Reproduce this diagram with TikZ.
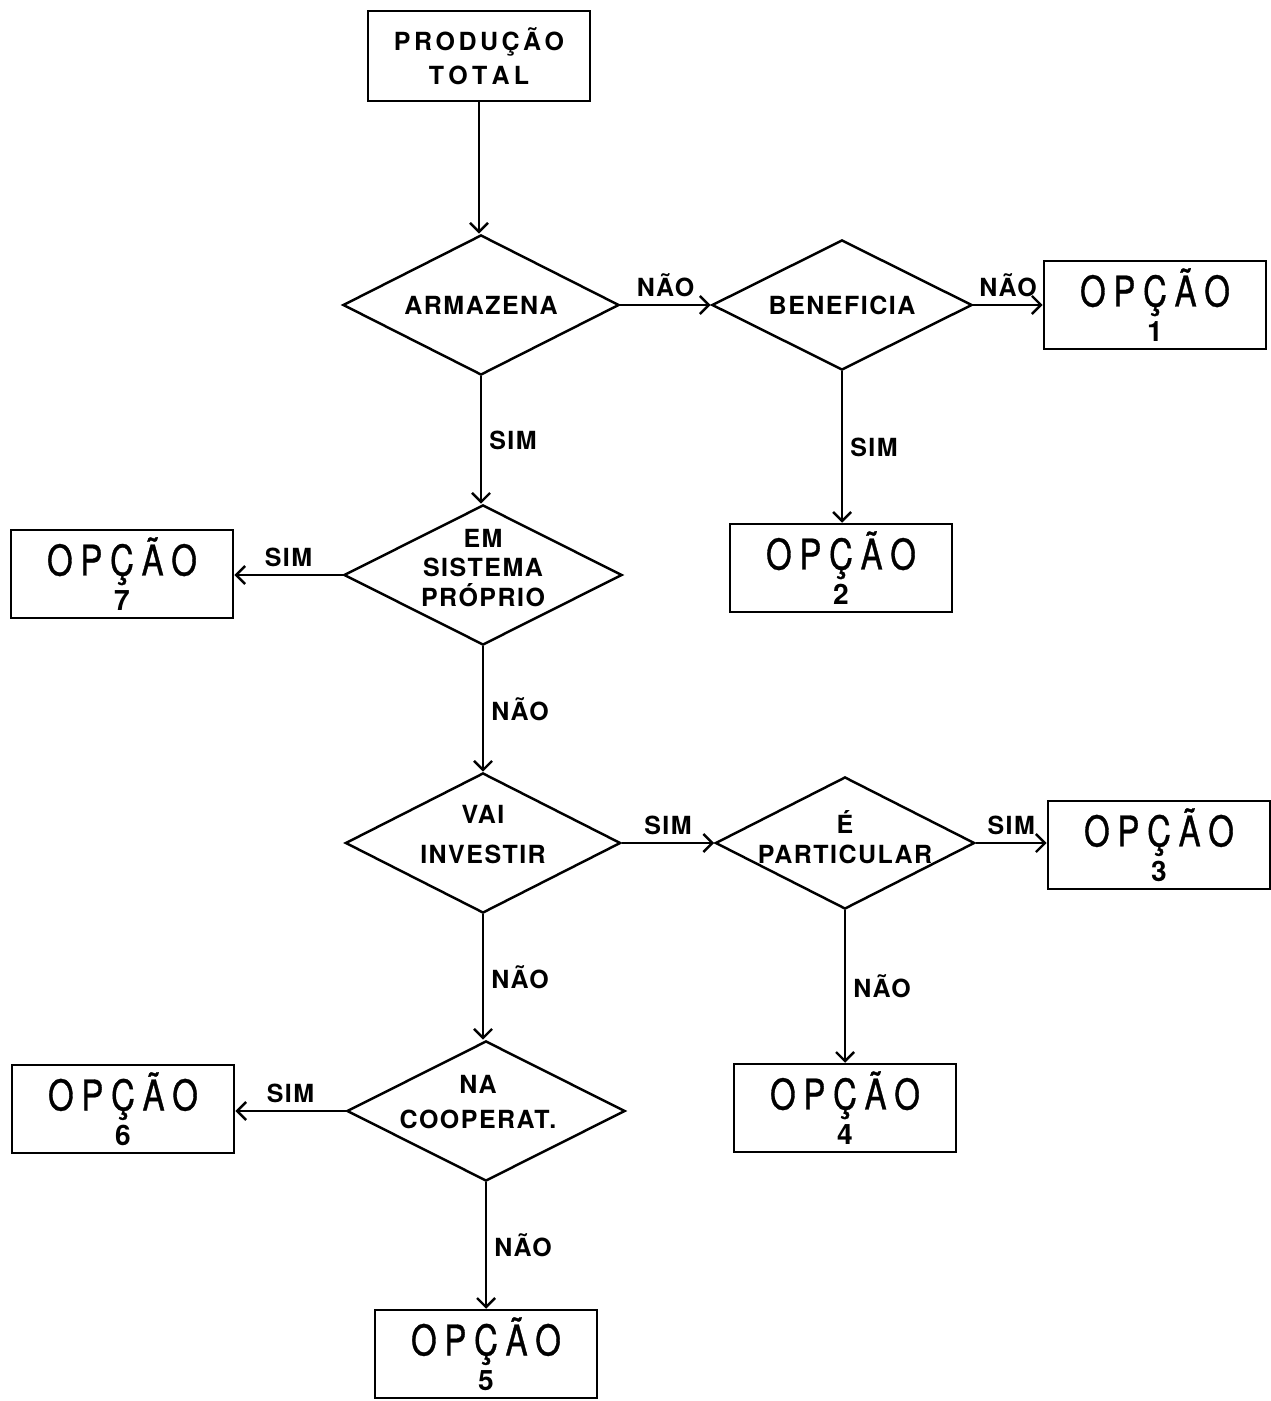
\documentclass[tikz,border=0pt]{standalone}
\usepackage{fontspec}
\setmainfont{TeX Gyre Heros}
\newfontfamily\labfont[LetterSpace=6]{TeX Gyre Heros}
\newfontfamily\optfont[FakeStretch=0.78,FakeBold=0.8]{TeX Gyre Heros}
\usetikzlibrary{shapes.geometric,arrows.meta}

% spaced words with a cedilla, kerned by hand
\newcommand{\prodword}{P\kern1.0pt R\kern1.0pt O\kern1.0pt D\kern1.0pt U\kern1.0pt Ç\kern1.0pt Ã\kern1.0pt O}
\newcommand{\totalword}{T\kern1.2pt O\kern1.2pt T\kern1.2pt A\kern1.2pt L}
\newcommand{\opcao}[1]{{\optfont\fontsize{12}{10}\selectfont O\kern2.2pt P\kern2.2pt Ç\kern2.2pt Ã\kern2.2pt O}\\{\bfseries\fontsize{8}{10}\selectfont #1}}

\tikzset{
  flow/.style={draw, line width=0.7pt, -{Straight Barb[length=0.9mm,width=1.8mm]}},
  startbox/.style={draw, line width=0.7pt, minimum width=2.22cm, minimum height=0.90cm,
    align=center, font=\bfseries\fontsize{7.1}{9.7}\selectfont},
  optbox/.style={draw, line width=0.7pt, minimum width=2.22cm, minimum height=0.88cm,
    inner sep=0pt, align=center, font={\fontsize{8}{10}\selectfont\lineskiplimit=-6pt\relax}},
  decision/.style={diamond, draw, line width=0.7pt, inner sep=0pt},
  dtext/.style={align=center, font=\labfont\bfseries\fontsize{7.1}{8.5}\selectfont},
  elabel/.style={font=\labfont\bfseries\fontsize{7.1}{8.5}\selectfont, inner sep=2pt}
}

\begin{document}
\begin{tikzpicture}[x=0.01cm, y=-0.01cm]
  \useasboundingbox (0,0) rectangle (1271,1401);

  % start
  \node[startbox] (prod) at (479,56) {\prodword\\\totalword};

  % decisions
  \node[decision, minimum width=2.76cm, minimum height=1.40cm,
    label={[dtext]center:ARMAZENA}] (armaz) at (481,305) {};
  \node[decision, minimum width=2.60cm, minimum height=1.30cm,
    label={[dtext]center:BENEFICIA}] (benef) at (842,305) {};
  \node[decision, minimum width=2.78cm, minimum height=1.40cm,
    label={[dtext, yshift=0.07cm]center:EM\\SISTEMA\\PRÓPRIO}] (sist) at (483,575) {};
  \node[decision, minimum width=2.75cm, minimum height=1.40cm,
    label={[dtext, yshift=0.08cm]center:VAI\\[2.9pt]INVESTIR}] (invest) at (483,843) {};
  \node[decision, minimum width=2.59cm, minimum height=1.32cm,
    label={[dtext, yshift=0.06cm]center:É\\PARTICULAR}] (partic) at (845,843) {};
  \node[decision, minimum width=2.78cm, minimum height=1.40cm,
    label={[dtext, yshift=0.09cm, xshift=-0.08cm]center:NA\\[1.5pt]COOPERAT.}] (coop) at (486,1111) {};

  % options
  \node[optbox] (op1) at (1155,305) {\opcao{1}};
  \node[optbox] (op2) at (841,568) {\opcao{2}};
  \node[optbox] (op3) at (1159,845) {\opcao{3}};
  \node[optbox] (op4) at (845,1108) {\opcao{4}};
  \node[optbox] (op5) at (486,1354) {\opcao{5}};
  \node[optbox] (op6) at (123,1109) {\opcao{6}};
  \node[optbox] (op7) at (122,574) {\opcao{7}};

  % connectors
  \draw[flow] (prod.south) -- (prod.south |- armaz.north);
  \draw[flow] (armaz.east) -- node[elabel, above] (l1) {NÃO} (benef.west);
  \draw[flow] (benef.east) -- node[elabel, above] (l2) {NÃO} (benef.east -| op1.west);
  \draw[flow] (benef.south) -- node[elabel, right] (l3) {SIM} (benef.south |- op2.north);
  \draw[flow] (armaz.south) -- node[elabel, right] (l4) {SIM} (armaz.south |- sist.north);
  \draw[flow] (sist.west) -- node[elabel, above] (l5) {SIM} (sist.west -| op7.east);
  \draw[flow] (sist.south) -- node[elabel, right] (l6) {NÃO} (sist.south |- invest.north);
  \draw[flow] (invest.east) -- node[elabel, above] (l7) {SIM} (partic.west);
  \draw[flow] (partic.east) -- node[elabel, above] (l8) {SIM} (partic.east -| op3.west);
  \draw[flow] (partic.south) -- node[elabel, right] (l9) {NÃO} (partic.south |- op4.north);
  \draw[flow] (invest.south) -- node[elabel, right] (l10) {NÃO} (invest.south |- coop.north);
  \draw[flow] (coop.west) -- node[elabel, above] (l11) {SIM} (coop.west -| op6.east);
  \draw[flow] (coop.south) -- node[elabel, right] (l12) {NÃO} (coop.south |- op5.north);
\end{tikzpicture}
\end{document}
